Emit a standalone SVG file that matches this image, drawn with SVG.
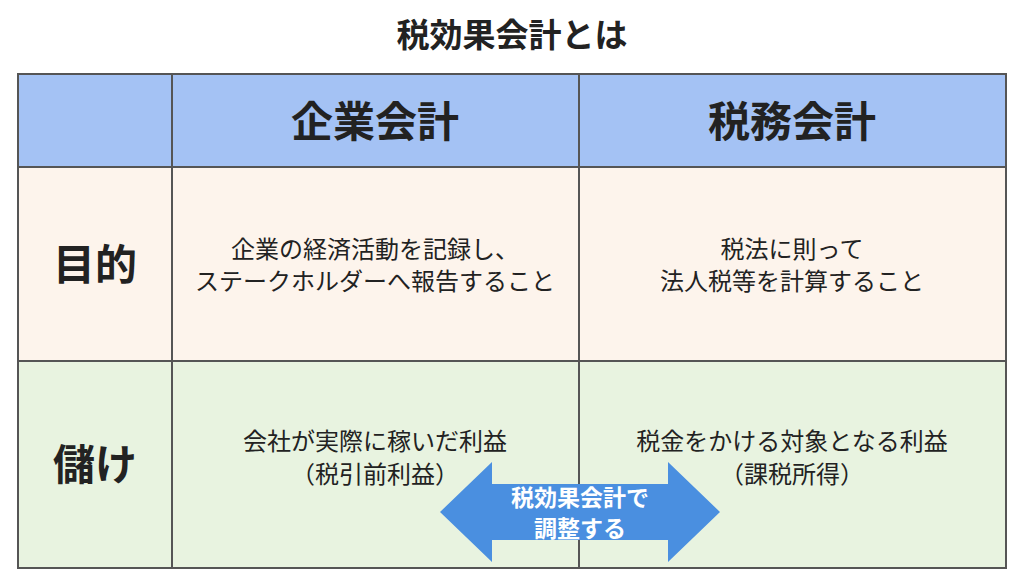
<svg xmlns="http://www.w3.org/2000/svg" width="1024" height="576" viewBox="0 0 1024 576">
<style>
text{font-family:"Noto Sans CJK JP","Noto Sans",sans-serif;fill:#222;text-anchor:middle}
.h{font-size:42px;font-weight:bold}
.b{font-size:24px}
.line{stroke:#555;stroke-width:2;fill:none}
</style>
<rect width="1024" height="576" fill="#fff"/>
<text x="512" y="47" font-size="33" font-weight="bold">税効果会計とは</text>
<g id="header">
<rect x="18" y="74" width="988" height="93" fill="#a4c2f4"/>
<text class="h" x="375" y="137">企業会計</text>
<text class="h" x="792" y="137">税務会計</text>
</g>
<g id="row-purpose">
<rect x="18" y="167" width="988" height="194" fill="#fdf4ec"/>
<text class="h" x="95" y="280">目的</text>
<text class="b" x="375" y="258">企業の経済活動を記録し、</text>
<text class="b" x="375" y="290">ステークホルダーへ報告すること</text>
<text class="b" x="792" y="258">税法に則って</text>
<text class="b" x="792" y="290">法人税等を計算すること</text>
</g>
<g id="row-profit">
<rect x="18" y="361" width="988" height="207" fill="#e8f3e0"/>
<text class="h" x="95" y="480">儲け</text>
<text class="b" x="375" y="450">会社が実際に稼いだ利益</text>
<text class="b" x="375" y="483">（税引前利益）</text>
<text class="b" x="792" y="450">税金をかける対象となる利益</text>
<text class="b" x="792" y="483">（課税所得）</text>
</g>
<g id="grid">
<rect class="line" x="18" y="74" width="988" height="494"/>
<path class="line" d="M18 167H1006M18 361H1006M172 74V568M579 74V568"/>
</g>
<g id="connectors">
<path d="M440 512L492 462V484H668V462L720 512L668 562V540H492V562Z" fill="#4a8fe0"/>
<text x="580" y="506" font-size="23" font-weight="bold" style="fill:#fff">税効果会計で</text>
<text x="580" y="537" font-size="23" font-weight="bold" style="fill:#fff">調整する</text>
</g>
</svg>
